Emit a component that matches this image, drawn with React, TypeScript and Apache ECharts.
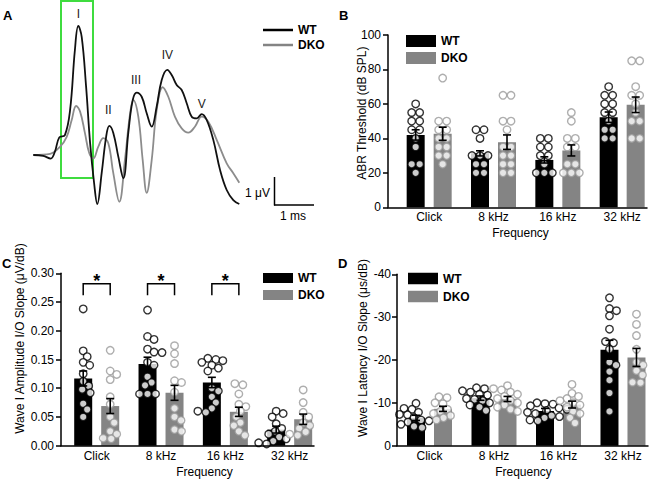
import React, { useEffect, useRef } from 'react';
import * as echarts from 'echarts';

const FONT = "'Liberation Sans', Arial, Helvetica, sans-serif";

// ---------- Panel A: ABR waveforms [ms, µV] ----------
const wtWave: number[][] = [
  [0, 0], [0.25, -0.03], [0.435, -0.13], [0.54, 0.12], [0.65, 0.63], [0.79, 0.71], [0.92, 1.61],
  [1.04, 3.75], [1.125, 4.61], [1.21, 4.22], [1.32, 2.44], [1.42, 0.43], [1.52, -1.0], [1.6, -1.75],
  [1.71, -0.64], [1.82, 0.64], [1.9, 1.04], [2.0, 0.79], [2.125, -0.06], [2.25, -0.83], [2.375, 0.79],
  [2.485, 1.96], [2.585, 2.23], [2.71, 2.08], [2.835, 1.49], [2.96, 1.01], [3.085, 1.73], [3.21, 2.68],
  [3.35, 3.04], [3.46, 2.86], [3.585, 2.5], [3.71, 2.32], [3.835, 1.85], [3.96, 1.37], [4.085, 1.31],
  [4.21, 1.46], [4.335, 1.25], [4.5, 0.54], [4.67, -0.54], [4.835, -1.25], [5.0, -1.61], [5.15, -1.75],
];
const dkoWave: number[][] = [
  [0, 0], [0.42, 0.04], [0.67, 0.3], [0.835, 0.65], [0.96, 1.25], [1.07, 1.75], [1.17, 1.55],
  [1.29, 0.79], [1.4, 0.06], [1.5, -0.12], [1.625, 0.3], [1.75, 0.6], [1.875, 0.42], [2.0, -0.65],
  [2.15, -1.67], [2.29, -0.18], [2.42, 1.49], [2.5, 1.96], [2.625, 1.37], [2.735, -0.18], [2.835, -1.35],
  [2.96, -0.18], [3.085, 1.61], [3.235, 2.42], [3.375, 2.08], [3.54, 1.37], [3.71, 0.95], [3.875, 0.8],
  [4.04, 1.01], [4.21, 1.37], [4.375, 1.19], [4.585, 0.54], [4.835, -0.3], [5.0, -0.65], [5.15, -0.99],
];
const peakLabels = ['I', 'II', 'III', 'IV', 'V'];

// ---------- shared ----------
const categories = ['Click', '8 kHz', '16 kHz', '32 kHz'];
const groups = ['WT', 'DKO'];

// ---------- Panel B: ABR threshold (dB SPL) ----------
const thrWTMean = [42, 31.3, 27.5, 52.3];
const thrWTSem = [3, 1.5, 1.8, 3];
const thrDKOMean = [42.7, 37.8, 33, 59.5];
const thrDKOSem = [3.8, 4.2, 3.2, 4.5];
const thrWTPts = [
  [60, 55, 55, 50, 50, 45, 45, 40, 35, 25, 25, 20],
  [45, 45, 40, 30, 30, 30, 25, 25, 20, 20],
  [40, 40, 35, 35, 30, 30, 25, 20, 20, 20],
  [70, 65, 65, 60, 60, 55, 55, 50, 45, 45, 40, 40],
];
const thrDKOPts = [
  [75, 50, 50, 45, 45, 40, 40, 35, 35, 30, 30, 25],
  [65, 65, 50, 50, 45, 35, 35, 30, 30, 25, 25, 20, 20],
  [55, 50, 40, 40, 35, 35, 25, 25, 20, 20, 20],
  [85, 85, 70, 65, 65, 60, 55, 50, 50, 40, 40],
];

// ---------- Panel C: wave I amplitude I/O slope (µV/dB) ----------
const ampWTMean = [0.117, 0.142, 0.11, 0.028];
const ampWTSem = [0.013, 0.012, 0.009, 0.006];
const ampDKOMean = [0.069, 0.092, 0.059, 0.046];
const ampDKOSem = [0.013, 0.013, 0.008, 0.009];
const ampWTPts = [
  [0.238, 0.165, 0.155, 0.145, 0.14, 0.125, 0.112, 0.104, 0.098, 0.092, 0.073, 0.063, 0.05],
  [0.236, 0.19, 0.185, 0.168, 0.163, 0.162, 0.145, 0.14, 0.12, 0.11, 0.105, 0.09, 0.09, 0.09],
  [0.152, 0.15, 0.148, 0.145, 0.14, 0.135, 0.13, 0.1, 0.095, 0.085, 0.075, 0.065, 0.06, 0.058],
  [0.06, 0.056, 0.05, 0.038, 0.03, 0.025, 0.02, 0.015, 0.012, 0.008, 0.005, 0.003],
];
const ampDKOPts = [
  [0.166, 0.13, 0.124, 0.115, 0.085, 0.072, 0.05, 0.04, 0.025, 0.02, 0.013, 0.012],
  [0.174, 0.16, 0.143, 0.113, 0.11, 0.093, 0.065, 0.05, 0.044, 0.028, 0.025],
  [0.108, 0.106, 0.09, 0.072, 0.068, 0.06, 0.05, 0.04, 0.035, 0.025, 0.018],
  [0.097, 0.075, 0.058, 0.05, 0.04, 0.035, 0.03, 0.024, 0.02, 0.018],
];
const sigCategories = ['Click', '8 kHz', '16 kHz'];
const sigBracket = [0.262, 0.282];

// ---------- Panel D: wave I latency I/O slope (µs/dB) ----------
const latWTMean = [-6.5, -11.1, -8.1, -22.4];
const latWTSem = [0.6, 0.5, 0.6, 2.2];
const latDKOMean = [-8.6, -10.9, -9.6, -20.6];
const latDKOSem = [0.6, 0.6, 0.8, 2.1];
const latWTPts = [
  [-9.9, -8.7, -8.5, -7.8, -7.3, -7.2, -6.5, -6, -5.8, -5.5, -5, -4.5, -4.2],
  [-13.5, -13.3, -12.8, -12.5, -12, -11.8, -11, -10.8, -10.5, -10, -9.5, -9, -8.2],
  [-10, -9.8, -9.7, -9.3, -8.8, -8.5, -8.2, -7.8, -7.5, -7, -6.8, -6.5, -6, -5.8],
  [-34.5, -32, -31.5, -30.3, -27.2, -24.3, -24, -22.5, -19.5, -18.8, -17.3, -15.3, -12.3, -8],
];
const latDKOPts = [
  [-11.4, -11.2, -10, -9.8, -8.5, -8, -7.5, -7, -6.5, -6],
  [-14, -13.3, -13, -12.5, -12, -11.5, -11, -10.5, -10, -9.5, -9, -8.5, -8],
  [-14.3, -12.2, -11.5, -11, -10.5, -10, -9.5, -9, -8, -7.5, -6.5, -5.3],
  [-30.7, -28.3, -25.7, -22.5, -19.5, -18.8, -17.5, -16.5, -14.8, -14.7],
];

// ---------- layout / style ----------
const WT_COLOR = '#000000';
const DKO_COLOR = '#848484';
const DKO_PT = '#9a9a9a';
const BAR_W = 18;
const BAR_GAP = 9;
const HALF = (BAR_W + BAR_GAP) / 2;
const DOT = 7.5;
const ROW_SP = 8;
const MIN_DIST = 7;

const GA = { left: 33.3, top: 15, width: 206, height: 196 };
const GB = { left: 388, top: 35, width: 259, height: 172.3 };
const GC = { left: 61, top: 273.3, width: 253, height: 172.4 };
const GD = { left: 397, top: 274.3, width: 251, height: 171.4 };

// dot-plot layout: equal values form symmetric rows, rows are shifted sideways only when they would overlap
function swarm(values: number[], pxPerUnit: number): number[] {
  const idx = values.map((_, i) => i).sort((a, b) => Math.abs(values[b]) - Math.abs(values[a]));
  const offs = new Array(values.length).fill(0);
  const rows: number[][] = [];
  idx.forEach((k) => {
    const last = rows[rows.length - 1];
    if (last && Math.abs(values[last[0]] - values[k]) * pxPerUnit < 1.5) last.push(k);
    else rows.push([k]);
  });
  const placed: number[][] = [];
  rows.forEach((row) => {
    const n = row.length;
    const base = row.map((_, j) => (j - (n - 1) / 2) * ROW_SP);
    let shift = 0;
    for (let step = 0; step < 120; step++) {
      const s = (step % 2 ? 1 : -1) * Math.ceil(step / 2) * 0.5;
      const ok = row.every((k, j) => placed.every(([px, py]) => {
        const dx = px - (base[j] + s);
        const dy = py - values[k] * pxPerUnit;
        return dx * dx + dy * dy >= MIN_DIST * MIN_DIST;
      }));
      if (ok) { shift = s; break; }
    }
    row.forEach((k, j) => {
      offs[k] = base[j] + shift;
      placed.push([offs[k], values[k] * pxPerUnit]);
    });
  });
  return offs;
}

function scatterData(pts: number[][], pxPerUnit: number, base: number) {
  const out: any[] = [];
  pts.forEach((vals, i) => {
    const offs = swarm(vals, pxPerUnit);
    vals.forEach((v, k) => out.push({ value: [i, v], symbolOffset: [base + offs[k], 0] }));
  });
  return out;
}

const axLine = { color: '#000', width: 1.5 };
const txt = { color: '#000', fontSize: 12, fontFamily: FONT };

function xCat(gi: number, min: number, max: number, shift: number) {
  return {
    type: 'value', gridIndex: gi, min, max, position: 'bottom', z: 10,
    axisLine: { show: true, onZero: false, lineStyle: axLine },
    axisTick: { show: false }, splitLine: { show: false },
    axisLabel: { ...txt, margin: 4, customValues: [0, 1, 2, 3], formatter: (v: number) => categories[Math.round(v)] ?? '' },
    name: 'Frequency', nameLocation: 'middle', nameGap: 20,
    nameTextStyle: { ...txt, padding: [0, 0, 0, shift * 2] },
  };
}

function yVal(gi: number, min: number, max: number, interval: number, name: string, nameGap: number, up: number, extra: any = {}) {
  return {
    type: 'value', gridIndex: gi, min, max, interval, position: 'left', z: 10,
    axisLine: { show: true, onZero: false, lineStyle: axLine },
    axisTick: { show: true, length: 5, lineStyle: axLine },
    splitLine: { show: false },
    axisLabel: { ...txt, margin: 7 },
    name, nameLocation: 'middle', nameGap, nameMoveOverlap: false,
    nameTextStyle: { ...txt, padding: [0, 0, 0, up * 2] },
    ...extra,
  };
}

function barSeries(name: string, axis: number, means: number[], color: string) {
  return {
    type: 'bar', name, xAxisIndex: axis, yAxisIndex: axis, z: 2,
    barWidth: BAR_W, barGap: (BAR_GAP / BAR_W) * 100 + '%',
    itemStyle: { color },
    data: means.map((m, i) => [i, m]),
  };
}

function dotSeries(name: string, axis: number, pts: number[][], pxPerUnit: number, base: number, stroke: string) {
  return {
    type: 'scatter', name: name + ' mice', xAxisIndex: axis, yAxisIndex: axis, z: 3,
    symbol: 'circle', symbolSize: DOT,
    itemStyle: { color: '#fff', borderColor: stroke, borderWidth: 1.4 },
    data: scatterData(pts, pxPerUnit, base),
  };
}

function semSeries(name: string, axis: number, means: number[], sems: number[], dx: number) {
  return {
    type: 'custom', name: name + ' SEM', xAxisIndex: axis, yAxisIndex: axis, z: 4,
    encode: { x: 0, y: 1 },
    data: means.map((m, i) => [i, m, sems[i]]),
    renderItem: (_p: any, api: any) => {
      const i = api.value(0); const m = api.value(1); const s = api.value(2);
      const t = api.coord([i, m + s]); const b = api.coord([i, m - s]);
      const x = t[0] + dx;
      const st = { stroke: '#000', lineWidth: 1.6 };
      return {
        type: 'group', children: [
          { type: 'line', shape: { x1: x, y1: t[1], x2: x, y2: b[1] }, style: st },
          { type: 'line', shape: { x1: x - 4, y1: t[1], x2: x + 4, y2: t[1] }, style: st },
          { type: 'line', shape: { x1: x - 4, y1: b[1], x2: x + 4, y2: b[1] }, style: st },
        ],
      };
    },
  };
}

function legend(left: number, top: number, itemHeight: number, itemGap: number) {
  return {
    left, top, orient: 'vertical', icon: 'rect', itemWidth: 30, itemHeight, itemGap, padding: 0,
    selectedMode: false, data: groups,
    textStyle: { ...txt, fontWeight: 'bold' },
  };
}

function buildOption(): any {
  const pxB = GB.height / 100;
  const pxC = GC.height / 0.3;
  const pxD = GD.height / 40;

  const series: any[] = [
    // B (first, so legends inherit the bar colours)
    barSeries('WT', 1, thrWTMean, WT_COLOR),
    barSeries('DKO', 1, thrDKOMean, DKO_COLOR),
    dotSeries('WT', 1, thrWTPts, pxB, -HALF, WT_COLOR),
    dotSeries('DKO', 1, thrDKOPts, pxB, HALF, DKO_PT),
    semSeries('WT', 1, thrWTMean, thrWTSem, -HALF),
    semSeries('DKO', 1, thrDKOMean, thrDKOSem, HALF),
    // A
    {
      type: 'line', name: 'WT trace', xAxisIndex: 0, yAxisIndex: 0, smooth: 0.4, showSymbol: false, symbol: 'none',
      lineStyle: { color: '#111', width: 1.8 }, data: wtWave, z: 3,
    },
    {
      type: 'line', name: 'DKO trace', xAxisIndex: 0, yAxisIndex: 0, smooth: 0.4, showSymbol: false, symbol: 'none',
      lineStyle: { color: '#8c8c8c', width: 1.8 }, data: dkoWave, z: 2,
    },
    // C
    barSeries('WT', 2, ampWTMean, WT_COLOR),
    barSeries('DKO', 2, ampDKOMean, DKO_COLOR),
    dotSeries('WT', 2, ampWTPts, pxC, -HALF, WT_COLOR),
    dotSeries('DKO', 2, ampDKOPts, pxC, HALF, DKO_PT),
    semSeries('WT', 2, ampWTMean, ampWTSem, -HALF),
    semSeries('DKO', 2, ampDKOMean, ampDKOSem, HALF),
    {
      type: 'custom', name: 'significance', xAxisIndex: 2, yAxisIndex: 2, z: 5,
      encode: { x: 0, y: 2 },
      data: sigCategories.map((c) => [categories.indexOf(c), sigBracket[0], sigBracket[1]]),
      renderItem: (_p: any, api: any) => {
        const i = api.value(0);
        const lo = api.coord([i, api.value(1)]);
        const hi = api.coord([i, api.value(2)]);
        const x1 = lo[0] - HALF; const x2 = lo[0] + HALF;
        return {
          type: 'group', children: [
            { type: 'polyline', shape: { points: [[x1, lo[1]], [x1, hi[1]], [x2, hi[1]], [x2, lo[1]]] }, style: { stroke: '#000', lineWidth: 1.5, fill: null } },
            { type: 'text', style: { text: '*', x: lo[0], y: hi[1] - 3, align: 'center', verticalAlign: 'middle', font: `bold 18px ${FONT}`, fill: '#000' } },
          ],
        };
      },
    },
    // D
    barSeries('WT', 3, latWTMean, WT_COLOR),
    barSeries('DKO', 3, latDKOMean, DKO_COLOR),
    dotSeries('WT', 3, latWTPts, pxD, -HALF, WT_COLOR),
    dotSeries('DKO', 3, latDKOPts, pxD, HALF, DKO_PT),
    semSeries('WT', 3, latWTMean, latWTSem, -HALF),
    semSeries('DKO', 3, latDKOMean, latDKOSem, HALF),
  ];

  const peakPos = [[78.3, 13.5], [108.3, 110], [136, 79.5], [167.3, 54.5], [201.7, 103.5]];

  return {
    animation: false,
    backgroundColor: '#fff',
    textStyle: { fontFamily: FONT },
    grid: [GA, GB, GC, GD].map((g) => ({ ...g, containLabel: false })),
    xAxis: [
      { type: 'value', gridIndex: 0, min: 0, max: 5.15, show: false },
      xCat(1, -0.64, 3.386, 3),
      xCat(2, -0.555, 3.378, 17),
      xCat(3, -0.504, 3.388, 1),
    ],
    yAxis: [
      { type: 'value', gridIndex: 0, min: -2, max: 5, show: false },
      yVal(1, 0, 100, 20, 'ABR Threshold (dB SPL)', 20, 8),
      yVal(2, 0, 0.3, 0.05, 'Wave I Amplitude I/O Slope (\u03bcV/dB)', 35, 21, {
        axisLabel: { ...txt, margin: 7, formatter: (v: number) => v.toFixed(2) },
      }),
      yVal(3, -40, 0, 10, 'Wave I Latency I/O Slope (\u03bcs/dB)', 28, 12, {
        inverse: true, axisLabel: { ...txt, margin: 6 },
      }),
    ],
    legend: [
      legend(263, 24, 2.5, 3),
      legend(406, 35, 12, 5),
      legend(263, 272, 10, 5),
      legend(408, 272.5, 11.5, 6),
    ],
    series,
    graphic: [
      { type: 'text', left: 3, top: 9, style: { text: 'A', font: `bold 13px ${FONT}`, fill: '#000' } },
      { type: 'text', left: 339, top: 9, style: { text: 'B', font: `bold 13px ${FONT}`, fill: '#000' } },
      { type: 'text', left: 2, top: 257, style: { text: 'C', font: `bold 13px ${FONT}`, fill: '#000' } },
      { type: 'text', left: 338, top: 257, style: { text: 'D', font: `bold 13px ${FONT}`, fill: '#000' } },
      { type: 'rect', shape: { x: 61, y: 1, width: 32, height: 177 }, style: { fill: null, stroke: '#3fdc3f', lineWidth: 2 } },
      ...peakLabels.map((t, k) => ({
        type: 'text', x: peakPos[k][0], y: peakPos[k][1],
        style: { text: t, align: 'center', verticalAlign: 'middle', font: `12px ${FONT}`, fill: '#222' },
      })),
      { type: 'line', shape: { x1: 274.5, y1: 177, x2: 274.5, y2: 205.5 }, style: { stroke: '#000', lineWidth: 1.5 } },
      { type: 'line', shape: { x1: 274, y1: 205, x2: 314, y2: 205 }, style: { stroke: '#000', lineWidth: 1.5 } },
      { type: 'text', x: 270, y: 193, style: { text: '1 \u03bcV', align: 'right', verticalAlign: 'middle', font: `12px ${FONT}`, fill: '#000' } },
      { type: 'text', x: 293, y: 216, style: { text: '1 ms', align: 'center', verticalAlign: 'middle', font: `12px ${FONT}`, fill: '#000' } },
    ],
  };
}

export default function App() {
  const ref = useRef<HTMLDivElement>(null);
  useEffect(() => {
    if (!ref.current) return;
    const chart = echarts.init(ref.current, undefined, { renderer: 'svg' });
    chart.setOption(buildOption());
    return () => chart.dispose();
  }, []);
  return (
    <div
      ref={ref}
      style={{ position: 'absolute', left: 0, top: 0, width: 657, height: 479, background: '#fff' }}
    />
  );
}
